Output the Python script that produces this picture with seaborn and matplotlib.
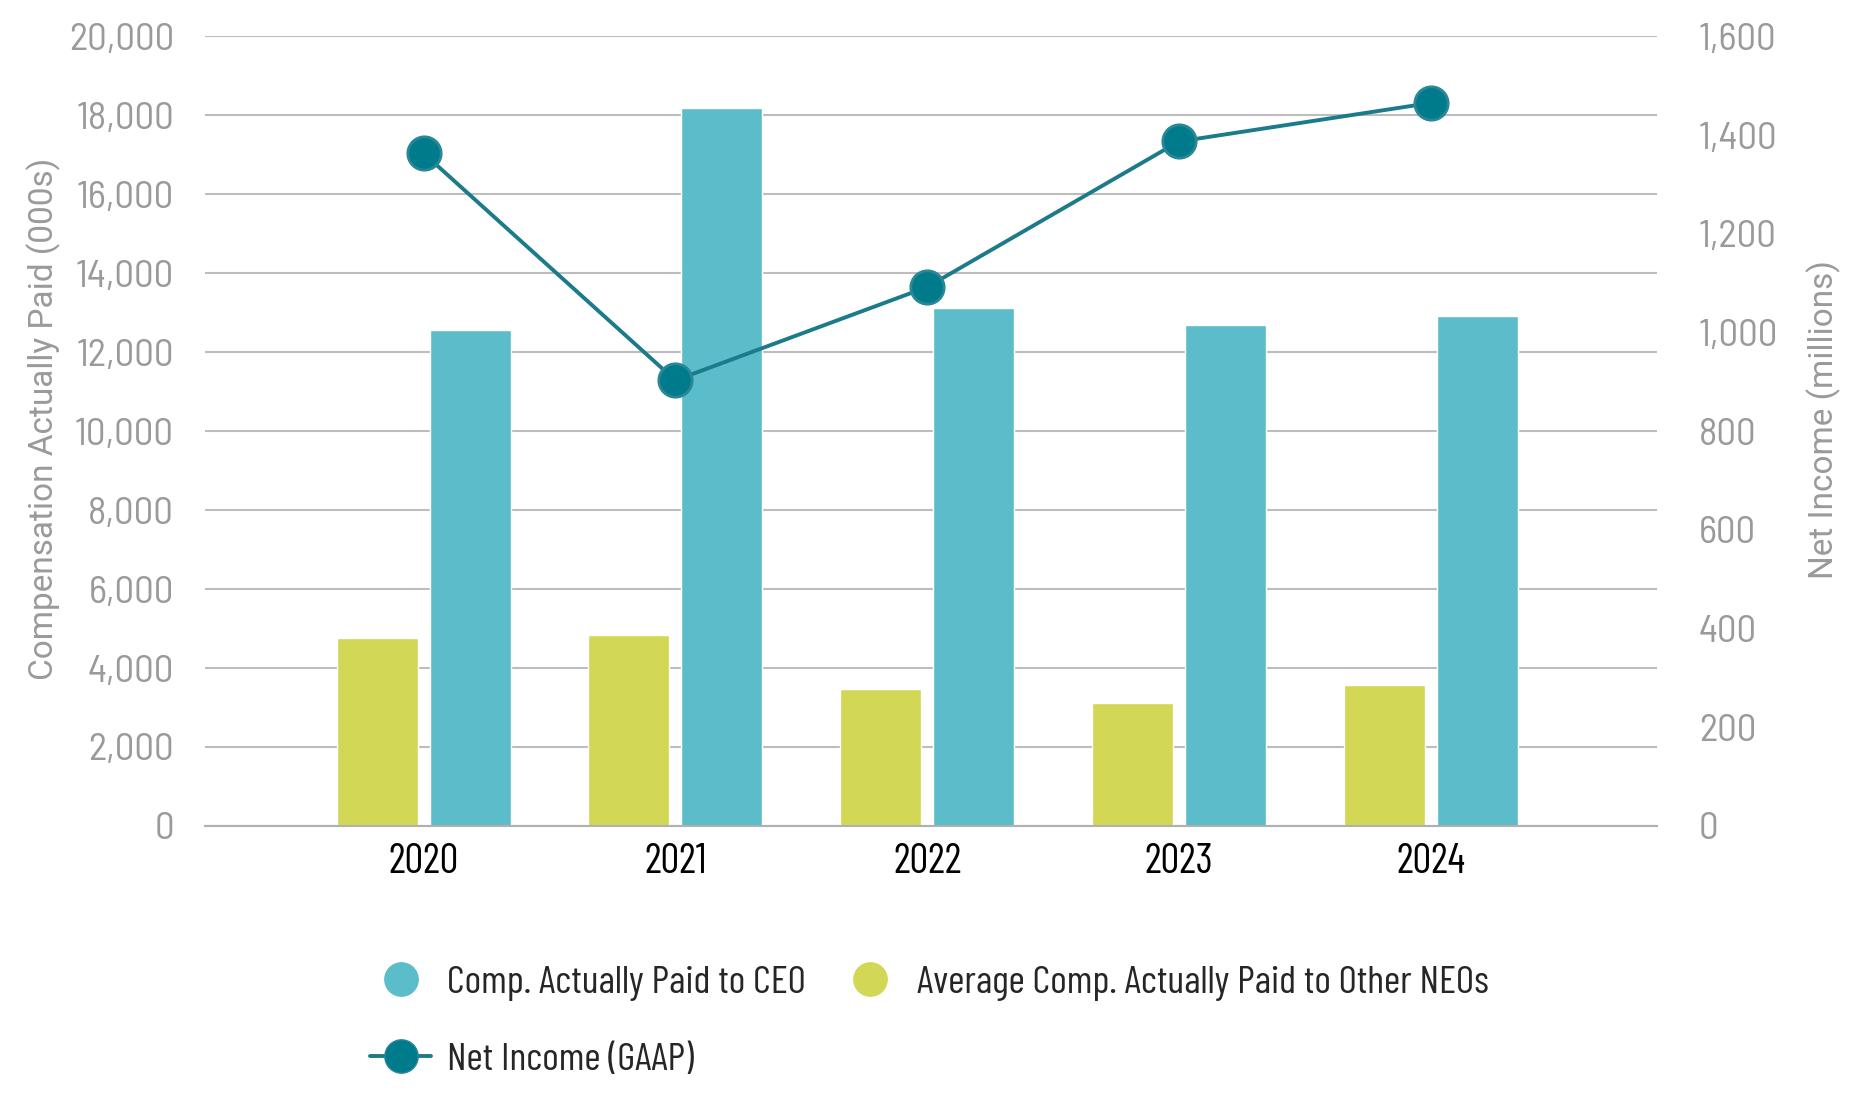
import numpy as np
import pandas as pd
import seaborn as sns
import matplotlib.pyplot as plt
from matplotlib.lines import Line2D

years = ['2020', '2021', '2022', '2023', '2024']
ceo_comp = [12550, 18190, 13120, 12700, 12910]
neo_comp = [4770, 4830, 3470, 3110, 3560]
net_income = [1363, 903, 1092, 1387, 1465]

ceo_label = 'Comp. Actually Paid to CEO'
neo_label = 'Average Comp. Actually Paid to Other NEOs'
ni_label = 'Net Income (GAAP)'

ceo_color = '#5bbdc9'
neo_color = '#d2d755'
line_color = '#1c7b8a'
grey = '#9a9a9a'

df = pd.DataFrame({'year': years, ceo_label: ceo_comp, neo_label: neo_comp})
df = df.melt(id_vars='year', var_name='series', value_name='comp')

sns.set_theme(style='white')
cond = ['Barlow Condensed', 'Roboto Condensed', 'DejaVu Sans']
semi = ['Barlow Semi Condensed', 'Barlow Condensed', 'DejaVu Sans']
plain = ['Roboto', 'DejaVu Sans']
plt.rcParams['font.family'] = cond

fig = plt.figure(figsize=(18.6, 11.02), dpi=100)
ax = fig.add_axes([0.110, 0.2505, 0.781, 0.7165])

sns.barplot(data=df, x='year', y='comp', hue='series',
            hue_order=[neo_label, ceo_label],
            palette=[neo_color, ceo_color], width=0.74, gap=0.13,
            saturation=1, ax=ax, legend=False)

ax.set_ylim(0, 20000)
ax.set_yticks(range(0, 20001, 2000))
ax.set_yticklabels([f'{v:,}' for v in range(0, 20001, 2000)], family=semi)
ax.yaxis.grid(True, color='#bdbdbd', linewidth=1.5)
ax.set_axisbelow(True)
for s in ['top', 'right', 'left']:
    ax.spines[s].set_visible(False)
ax.spines['bottom'].set_color('#b0b0b0')
ax.spines['bottom'].set_linewidth(1.5)
ax.tick_params(axis='y', length=0, pad=22, labelsize=28, labelcolor=grey)
ax.tick_params(axis='x', length=0, pad=12, labelsize=30, labelcolor='black')
ax.set_xlabel('')
ax.set_ylabel('Compensation Actually Paid (000s)', fontsize=24, color=grey,
              family=plain)
ax.yaxis.set_label_coords(-0.099, 0.515)

ax2 = ax.twinx()
sns.lineplot(x=np.arange(len(years)), y=net_income, ax=ax2, color=line_color,
             linewidth=2.8, marker='o', markersize=24,
             markerfacecolor='#007b8b', markeredgecolor='#2a8797',
             markeredgewidth=2)
ax2.set_ylim(0, 1600)
ax2.set_yticks(range(0, 1601, 200))
ax2.set_yticklabels([f'{v:,}' for v in range(0, 1601, 200)], family=semi)
for s in ['top', 'right', 'left', 'bottom']:
    ax2.spines[s].set_visible(False)
ax2.tick_params(axis='y', length=0, pad=30, labelsize=28, labelcolor=grey)
ax2.set_ylabel('Net Income (millions)', fontsize=24, color=grey,
               family=plain)
ax2.yaxis.set_label_coords(1.103, 0.515)
ax2.grid(False)
ax.set_xlim(-0.87, 4.90)

handles = [
    Line2D([], [], linestyle='none', marker='o', markersize=24,
           markerfacecolor=ceo_color, markeredgecolor=ceo_color),
    Line2D([], [], color=line_color, linewidth=2.8, marker='o', markersize=24,
           markerfacecolor='#007b8b', markeredgecolor='#2a8797'),
    Line2D([], [], linestyle='none', marker='o', markersize=24,
           markerfacecolor=neo_color, markeredgecolor=neo_color),
]
labels = [ceo_label, ni_label, neo_label]
fig.legend(handles, labels, ncol=2, frameon=False, fontsize=28.5,
           loc='upper left', bbox_to_anchor=(0.199, 0.124),
           handlelength=1.55, handletextpad=0.4, columnspacing=0.85,
           labelspacing=1.05, borderpad=0, borderaxespad=0)

fig.savefig('out.png', dpi=100)
